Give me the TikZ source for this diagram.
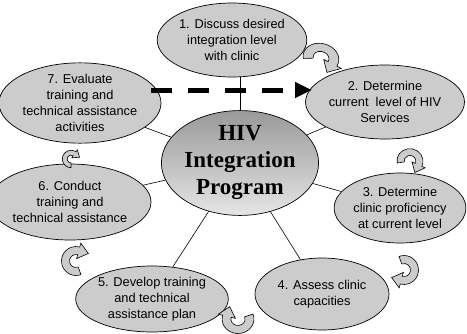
\documentclass[tikz,border=0pt]{standalone}
\usepackage{fontspec}
\setmainfont{Liberation Sans}
\newfontfamily\hivfont{Liberation Serif}
\usetikzlibrary{shapes.geometric,arrows.meta,calc}

\definecolor{bubble}{gray}{0.8}
\definecolor{hivtop}{gray}{0.6}
\definecolor{hivbot}{gray}{0.9}

% curved block arrow: x, y, rotation, xscale, yscale
\newcommand{\curvarrow}[5]{%
  \begin{scope}[shift={(#1,#2)},rotate=#3,xscale=#4,yscale=#5]
    \filldraw[turn] (160:14.5) arc[start angle=160,end angle=375,radius=14.5]
      -- (375:18.5) -- ($(375:10.5)+(465:10)$) -- (375:2.5)
      -- (375:6.5) arc[start angle=375,end angle=160,radius=6.5] -- cycle;
  \end{scope}}

\begin{document}
\begin{tikzpicture}[x=1pt,y=-1pt,
    stage/.style={ellipse, draw, fill=bubble, line width=0.7pt, inner sep=0pt,
      align=center, font=\fontsize{12.8}{15.8}\selectfont},
    spoke/.style={line width=0.6pt},
    turn/.style={fill=bubble, draw=black, line width=0.6pt},
    dashline/.style={line width=5pt, dash pattern=on 21pt off 16pt,
      -{Triangle[length=17pt,width=15pt]}}]
    \useasboundingbox (0,0) rectangle (467,333);
    \node[stage, minimum width=130pt, minimum height=74pt] (n1) at (232,40)
        {1. Discuss desired\\integration level\\with clinic};
    \node[stage, minimum width=134pt, minimum height=74pt] (n2) at (385,102)
        {2. Determine\\current~ level of HIV\\Services};
    \node[stage, minimum width=124pt, minimum height=70pt] (n3) at (400,208)
        {3. Determine\\clinic proficiency\\at current level};
    \node[stage, minimum width=134pt, minimum height=72pt] (n4) at (322,294)
        {4. Assess clinic\\capacities};
    \node[stage, minimum width=122pt, minimum height=66pt] (n5) at (152,299)
        {5. Develop training\\and technical\\assistance plan};
    \node[stage, minimum width=134pt, minimum height=76pt] (n6) at (70,202)
        {6. Conduct\\training and\\technical assistance};
    \node[stage, minimum width=134pt, minimum height=74pt] (n7) at (80,103)
        {7. Evaluate\\training and\\technical assistance\\activities};
    \node[ellipse, draw, line width=0.7pt, top color=hivtop, bottom color=hivbot,
        minimum width=137pt, minimum height=100pt, inner sep=0pt, align=center,
        font=\hivfont\bfseries\fontsize{23}{27}\selectfont] (hiv) at (240,163)
        {HIV\\Integration\\Program};
    \draw[spoke] (hiv.north) -- (hiv.north |- n1.south);
    \draw[spoke] (hiv) -- (n2);
    \draw[spoke] (hiv) -- (n3);
    \draw[spoke] (hiv) -- (n4);
    \draw[spoke] (hiv) -- (n5);
    \draw[spoke] (hiv) -- (n6);
    \draw[spoke] (hiv) -- (n7);
    \coordinate (dstart) at (151,90);
    \coordinate (dend) at (312,90);
    \draw[dashline] (dstart) -- (dend);
    \curvarrow{321}{58}{-15}{1.25}{1.0}
    \curvarrow{410}{161}{-10}{0.9}{0.85}
    \curvarrow{404}{270}{-90}{1.0}{1.0}
    \curvarrow{238}{319}{180}{1.1}{1.0}
    \curvarrow{76}{261}{90}{1.0}{1.0}
    \curvarrow{71}{159}{70}{0.6}{0.6}
\end{tikzpicture}
\end{document}
